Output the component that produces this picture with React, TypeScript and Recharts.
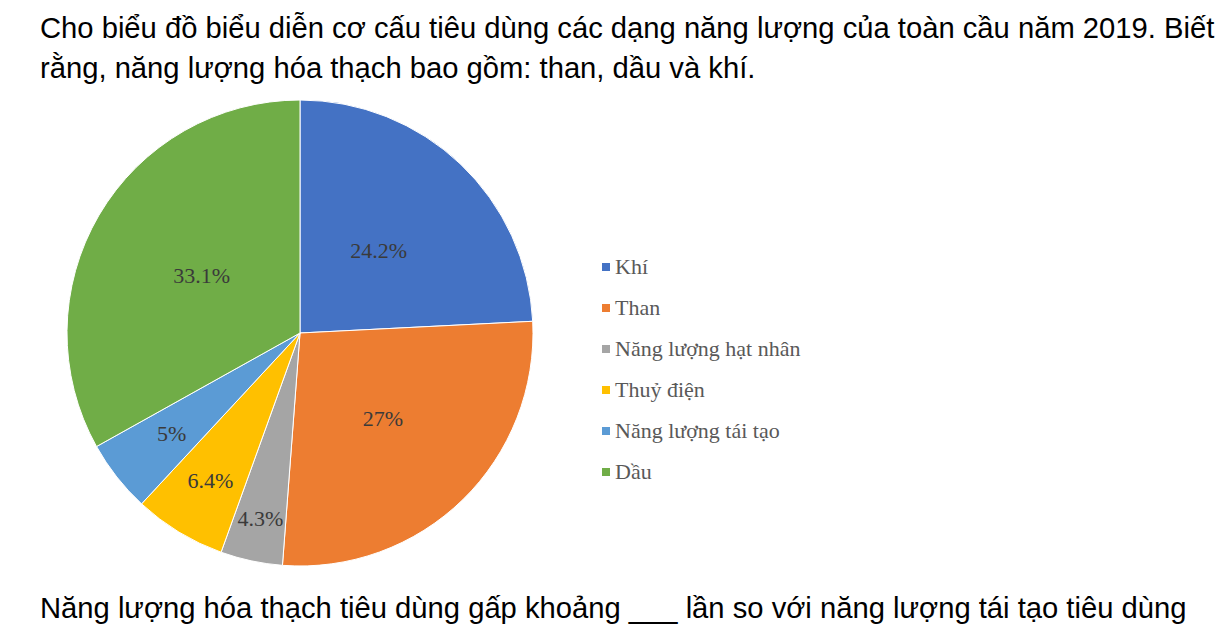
import { Legend, Pie, PieChart } from "recharts";

const energyNames = ["Khí", "Than", "Năng lượng hạt nhân", "Thuỷ điện", "Năng lượng tái tạo", "Dầu"];
const energyShares = [24.2, 27, 4.3, 6.4, 5, 33.1];
const sliceColors = ["#4472C4", "#ED7D31", "#A5A5A5", "#FFC000", "#5B9BD5", "#70AD47"];
// how far out each percentage label sits, as a share of the radius
const labelRadiusRatio = [0.49, 0.51, 0.815, 0.74, 0.7, 0.49];

const questionTop = "Cho biểu đồ biểu diễn cơ cấu tiêu dùng các dạng năng lượng của toàn cầu năm 2019. Biết rằng, năng lượng hóa thạch bao gồm: than, dầu và khí.";
const questionBottom = "Năng lượng hóa thạch tiêu dùng gấp khoảng ___ lần so với năng lượng tái tạo tiêu dùng";

const pieData = energyNames.map((name, i) => ({
  name,
  value: energyShares[i],
  fill: sliceColors[i]
}));

const RAD = Math.PI / 180;

function renderSliceLabel(props: any) {
  const { cx, cy, midAngle, outerRadius, index, value } = props;
  const r = outerRadius * labelRadiusRatio[index];
  const x = cx + r * Math.cos(-midAngle * RAD);
  const y = cy + r * Math.sin(-midAngle * RAD);
  return (
    <text
      x={x}
      y={y}
      fill="#3a3a3a"
      textAnchor="middle"
      dominantBaseline="central"
      fontFamily="'Liberation Serif', serif"
      fontSize={22}
    >
      {`${value}%`}
    </text>
  );
}

// legend keeps the slice order instead of recharts' alphabetical sort
function EnergyLegend() {
  return (
    <div style={{ fontFamily: "'Liberation Serif', serif", fontSize: 22, color: "#595959" }}>
      {energyNames.map((name, i) => (
        <div key={name} style={{ display: "flex", alignItems: "center", height: 41 }}>
          <span style={{ width: 8, height: 8, background: sliceColors[i], marginRight: 5, display: "inline-block" }} />
          <span>{name}</span>
        </div>
      ))}
    </div>
  );
}

export default function App() {
  return (
    <div style={{ position: "fixed", left: 0, top: 0, width: 1227, height: 637, background: "#fff", overflow: "hidden" }}>
      <div
        style={{
          position: "absolute",
          left: 40,
          top: 8,
          width: 1187,
          fontFamily: "'Liberation Sans', Arial, sans-serif",
          fontSize: 29.2,
          lineHeight: "40px",
          color: "#000"
        }}
      >
        {questionTop}
      </div>

      <div style={{ position: "absolute", left: 0, top: 90 }}>
        <PieChart width={900} height={490} margin={{ top: 0, right: 0, bottom: 0, left: 0 }}>
          <Pie
            data={pieData}
            dataKey="value"
            nameKey="name"
            cx={300}
            cy={243}
            outerRadius={233}
            startAngle={90}
            endAngle={-270}
            stroke="#ffffff"
            strokeWidth={1}
            labelLine={false}
            label={renderSliceLabel}
            isAnimationActive={false}
          />
          <Legend
            layout="vertical"
            content={<EnergyLegend />}
            wrapperStyle={{ position: "absolute", left: 602, top: 156, width: 280 }}
          />
        </PieChart>
      </div>

      <div
        style={{
          position: "absolute",
          left: 40,
          top: 588,
          fontFamily: "'Liberation Sans', Arial, sans-serif",
          fontSize: 29.2,
          lineHeight: "40px",
          color: "#000",
          whiteSpace: "nowrap"
        }}
      >
        {questionBottom}
      </div>
    </div>
  );
}
